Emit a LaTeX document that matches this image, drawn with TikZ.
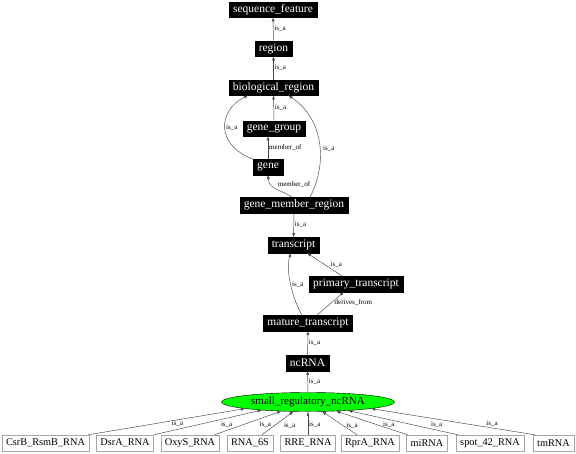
\documentclass[tikz,border=0pt]{standalone}
\usepackage{fontspec}
\setmainfont{Liberation Serif}
\usetikzlibrary{arrows.meta,shapes.geometric}
\begin{document}
\begin{tikzpicture}[x=1pt,y=-1pt,
  blk/.style={draw=black,fill=black,text=white,font=\fontsize{11.5}{12}\selectfont,inner xsep=4pt,inner ysep=0pt,minimum height=15.5pt},
  wbox/.style={draw=gray!70,fill=white,text=black,font=\fontsize{10.3}{12}\selectfont,inner xsep=4pt,inner ysep=0pt,minimum height=16pt},
  ell/.style={ellipse,draw=black,fill=green,font=\fontsize{11}{12}\selectfont,inner sep=0pt,minimum width=173pt,minimum height=19pt},
  e/.style={draw=gray!55!black,line width=0.45pt,-{Latex[length=4pt,width=3pt]}},
  lbl/.style={font=\fontsize{7}{8}\selectfont,inner sep=1pt,text=black}]
\useasboundingbox (0,0) rectangle (576,453);
\fill[white] (0,0) rectangle (576,453);
% nodes
\node[blk] (sf) at (273,9.5) {sequence\_feature};
\node[blk] (region) at (273.5,48.5) {region};
\node[blk] (bio) at (273.5,87.5) {biological\_region};
\node[blk] (gg) at (274,128.5) {gene\_group};
\node[blk] (gene) at (268,167) {gene};
\node[blk] (gmr) at (294,205) {gene\_member\_region};
\node[blk] (tr) at (293.5,245) {transcript};
\node[blk] (pt) at (356,284) {primary\_transcript};
\node[blk] (mt) at (308,323) {mature\_transcript};
\node[blk] (nc) at (307.5,363) {ncRNA};
\node[ell] (srn) at (308,402) {small\_regulatory\_ncRNA};
\node[wbox] (csrb) at (45.5,443) {CsrB\_RsmB\_RNA};
\node[wbox] (dsra) at (125,443) {DsrA\_RNA};
\node[wbox] (oxys) at (190,443) {OxyS\_RNA};
\node[wbox] (rna6s) at (250,443) {RNA\_6S};
\node[wbox] (rre) at (308,443) {RRE\_RNA};
\node[wbox] (rpra) at (370,443) {RprA\_RNA};
\node[wbox] (mirna) at (427,443) {miRNA};
\node[wbox] (spot) at (490,443) {spot\_42\_RNA};
\node[wbox] (tmrna) at (553.5,443) {tmRNA};
% upper edges
\draw[e] (region) -- node[lbl,right]{is\_a} (sf);
\draw[e] (bio) -- node[lbl,right]{is\_a} (region);
\draw[e] (gg.north) -- node[lbl,right]{is\_a} (bio.south);
\draw[e] (gene.north) -- node[lbl,right]{member\_of} (gene.north |- gg.south);
\draw[e] (gene.north west) .. controls (215,145) and (218,110) .. node[lbl,right]{is\_a} ([xshift=-25.5pt]bio.south);
\draw[e] ([xshift=16pt]gmr.north) .. controls (327,165) and (325,120) .. node[lbl,pos=.45,right,xshift=2pt]{is\_a} ([xshift=15pt]bio.south);
\draw[e] ([xshift=-2pt]gmr.north) .. controls (282,190) and (269,190) .. node[lbl,pos=.5,anchor=south west]{member\_of} (gene.south);
\draw[e] (gmr) -- node[lbl,right]{is\_a} (tr);
\draw[e] ([xshift=-14pt]pt.north) -- node[lbl,right,xshift=5pt]{is\_a} ([xshift=13.5pt]tr.south);
\draw[e] ([xshift=-6pt]mt.north) .. controls (293,300) and (285,270) .. node[lbl,right]{is\_a} ([xshift=-2.5pt]tr.south);
\draw[e] ([xshift=9pt]mt.north) -- node[lbl,right,xshift=3pt,yshift=1pt]{derives\_from} ([xshift=-12pt]pt.south);
\draw[e] (nc) -- node[lbl,right]{is\_a} (mt);
\draw[e] (srn) -- node[lbl,right]{is\_a} (nc);
% bottom edges
\draw[e] ([xshift=-1pt]csrb.north east) -- node[lbl,xshift=11pt,yshift=-2pt]{is\_a} (srn.186.9);
\draw[e] (dsra.north east) -- node[lbl,xshift=19pt,yshift=-2pt]{is\_a} (srn.190.85);
\draw[e] ([xshift=-5pt]oxys.north east) -- node[lbl,xshift=17.5pt,yshift=-2pt]{is\_a} (srn.199.2);
\draw[e] ([xshift=12pt]rna6s.north) -- node[lbl,xshift=12pt,yshift=-2pt]{is\_a} (srn.213.8);
\draw[e] (rre.north) -- node[lbl,right,yshift=-1pt]{is\_a} (srn.270);
\draw[e] ([xshift=-13pt]rpra.north) -- node[lbl,xshift=12.5pt,yshift=-2pt]{is\_a} (srn.326.2);
\draw[e] ([xshift=1pt]mirna.north west) -- node[lbl,xshift=17pt,yshift=-2pt]{is\_a} (srn.342.2);
\draw[e] ([xshift=2pt]spot.north west) -- node[lbl,xshift=33.5pt,yshift=-2pt]{is\_a} (srn.348.8);
\draw[e] ([xshift=2pt]tmrna.north west) -- node[lbl,xshift=39pt,yshift=-2pt]{is\_a} (srn.354.9);
\end{tikzpicture}
\end{document}
